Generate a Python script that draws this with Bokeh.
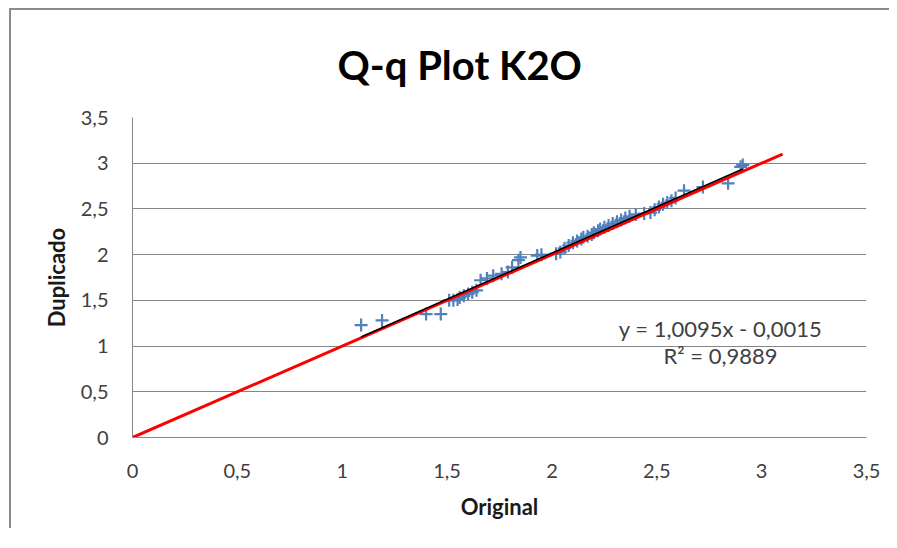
from bokeh.plotting import figure
from bokeh.models import Range1d, FixedTicker, Label, ColumnDataSource, Title
from bokeh.embed import file_html
from bokeh.resources import INLINE

# ---- data ----
original = [1.09, 1.19, 1.40, 1.47, 1.51, 1.53, 1.55, 1.56, 1.58, 1.60, 1.62, 1.64,
            1.66, 1.69, 1.72, 1.76, 1.79, 1.81, 1.84, 1.85, 1.93, 1.95, 2.02, 2.04,
            2.06, 2.08, 2.10, 2.12, 2.14, 2.15, 2.17, 2.19, 2.20, 2.22, 2.23, 2.25,
            2.27, 2.29, 2.31, 2.33, 2.35, 2.37, 2.40, 2.44, 2.47, 2.49, 2.51, 2.53,
            2.55, 2.57, 2.59, 2.63, 2.72, 2.84, 2.90, 2.91]
duplicado = [1.23, 1.28, 1.35, 1.35, 1.50, 1.50, 1.51, 1.53, 1.55, 1.57, 1.59, 1.61,
             1.72, 1.74, 1.77, 1.79, 1.81, 1.86, 1.94, 1.97, 1.99, 2.00, 2.01, 2.03,
             2.07, 2.10, 2.13, 2.15, 2.17, 2.19, 2.20, 2.22, 2.24, 2.26, 2.28, 2.30,
             2.32, 2.34, 2.36, 2.38, 2.40, 2.42, 2.44, 2.45, 2.46, 2.49, 2.52, 2.55,
             2.57, 2.59, 2.62, 2.70, 2.74, 2.78, 2.96, 2.98]
ref_x = [0.0, 3.1]
ref_y = [0.0, 3.1]
slope = 1.0095
intercept = -0.0015
r2_text = "R² = 0,9889"
eq_text = "y = 1,0095x - 0,0015"
tick_values = [0, 0.5, 1, 1.5, 2, 2.5, 3, 3.5]
tick_labels = ["0", "0,5", "1", "1,5", "2", "2,5", "3", "3,5"]
title_text = "Q-q Plot K2O"
x_label = "Original"
y_label = "Duplicado"

FONT = "Lato"
TXT = "#404040"

p = figure(width=880, height=520, output_backend="svg", toolbar_location=None,
           x_range=Range1d(0, 3.5), y_range=Range1d(0, 3.5),
           min_border_left=121, min_border_right=25, min_border_top=107,
           min_border_bottom=93)
p.margin = (8, 0, 0, 9)
p.outline_line_color = None
p.background_fill_color = "white"
p.border_fill_color = "white"
p.styles = {"border-left": "2px solid #8c8c8c", "border-top": "2px solid #8c8c8c"}

p.title = Title(text=title_text, align="left", offset=205, standoff=57,
                text_font=FONT, text_font_size="40px", text_font_style="bold",
                text_color="black")

for ax in (p.xaxis[0], p.yaxis[0]):
    ax.ticker = FixedTicker(ticks=tick_values)
    ax.major_label_overrides = {v: s for v, s in zip(tick_values, tick_labels)}
    ax.major_tick_line_color = None
    ax.minor_tick_line_color = None
    ax.axis_line_color = "#868686"
    ax.major_label_text_font = FONT
    ax.major_label_text_font_size = "20px"
    ax.major_label_text_color = TXT
    ax.axis_label_text_font = FONT
    ax.axis_label_text_font_style = "bold"
    ax.axis_label_text_font_size = "22px"
    ax.axis_label_text_color = "#1a1a1a"

p.xaxis.major_label_standoff = 20
p.yaxis.major_label_standoff = 18
p.xaxis.axis_label_standoff = 12
p.yaxis.axis_label_standoff = 8
p.xaxis.axis_label = x_label
p.yaxis.axis_label = y_label
p.yaxis.major_label_orientation = "horizontal"

p.xgrid.grid_line_color = None
p.ygrid.ticker = FixedTicker(ticks=tick_values)
p.ygrid.grid_line_color = "#868686"
p.ygrid.grid_line_width = 1

src = ColumnDataSource(dict(x=original, y=duplicado))
p.scatter("x", "y", source=src, marker="cross", size=13, line_width=2.2,
          line_color="#4F81BD")

p.line(ref_x, ref_y, line_color="#FF0000", line_width=3)

xmin, xmax = min(original), max(original)
p.line([xmin, xmax], [slope * xmin + intercept, slope * xmax + intercept],
       line_color="black", line_width=1.5)

p.add_layout(Label(x=2.804, y=1.193, text=eq_text, text_align="center",
                   text_baseline="middle", text_font=FONT, text_font_size="22px",
                   text_color=TXT))
p.add_layout(Label(x=2.804, y=0.897, text=r2_text, text_align="center",
                   text_baseline="middle", text_font=FONT, text_font_size="22px",
                   text_color=TXT))

open("out.html", "w").write(file_html(p, INLINE))
